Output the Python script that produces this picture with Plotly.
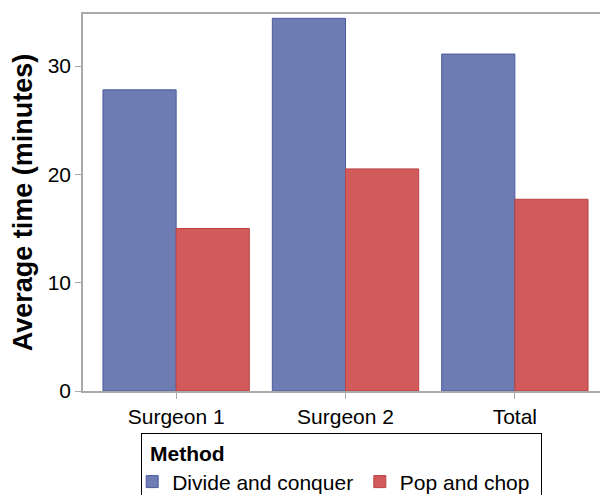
import plotly.graph_objects as go

categories = ["Surgeon 1", "Surgeon 2", "Total"]
divide_and_conquer = [27.8, 34.4, 31.1]
pop_and_chop = [15.0, 20.5, 17.7]
series_names = ["Divide and conquer", "Pop and chop"]

fig = go.Figure()
fig.add_trace(go.Bar(x=categories, y=divide_and_conquer, name=series_names[0] + "&nbsp;&nbsp;",
                     marker=dict(color="#6d7db3", line=dict(color="#4a5a9e", width=1))))
fig.add_trace(go.Bar(x=categories, y=pop_and_chop, name=series_names[1] + "&nbsp;",
                     marker=dict(color="#d25a5a", line=dict(color="#b84444", width=1))))

fig.update_layout(
    width=600, height=487,
    margin=dict(l=75, r=0, t=6, b=104),
    barmode="group", bargap=0.136, bargroupgap=0,
    plot_bgcolor="white", paper_bgcolor="white",
    font=dict(family="Liberation Sans, Arial, sans-serif", color="black", size=21),
    xaxis=dict(range=[-0.55, 2.55], showline=True, linecolor="#aaaaaa", linewidth=1.5,
               mirror=True, ticks="outside", ticklen=6, tickcolor="#aaaaaa",
               showgrid=False, tickfont=dict(size=21), automargin=False),
    yaxis=dict(range=[0, 34.8], showline=True, linecolor="#aaaaaa", linewidth=1.5,
               ticks="outside", ticklen=6, tickcolor="#aaaaaa", showgrid=False,
               zeroline=False, tickvals=[0, 10, 20, 30], tickfont=dict(size=21),
               automargin=False,
               title=dict(text="<b>Average time (minutes)</b>", font=dict(size=27), standoff=8)),
    showlegend=True,
    legend=dict(orientation="h", xref="container", yref="container",
                x=0.222, xanchor="left", y=0.127, yanchor="top",
                bordercolor="black", borderwidth=1, bgcolor="white",
                indentation=-10,
                title=dict(text="&nbsp;<b>Method</b>", side="top", font=dict(size=21)),
                font=dict(size=21), itemwidth=30),
)

fig.write_html("out.html")
